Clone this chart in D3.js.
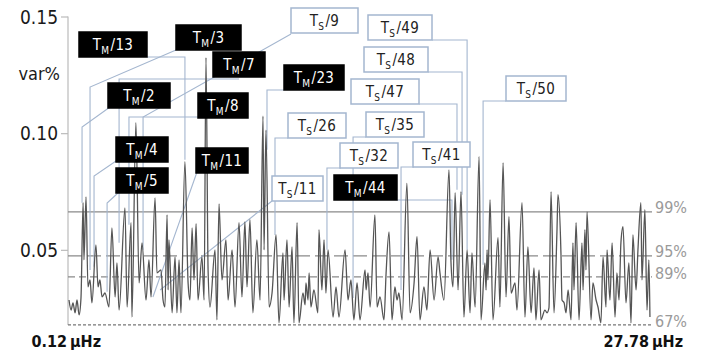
<!DOCTYPE html>
<html>
<head>
<meta charset="utf-8">
<script src="https://cdn.jsdelivr.net/npm/d3@7"></script>
<style>
  body { margin: 0; background: #fff; }
  svg text { font-family: "DejaVu Sans Condensed", "DejaVu Sans", sans-serif; }
</style>
</head>
<body>
<svg id="chart" width="704" height="354"></svg>
<script>
// spectrum: frequency (µHz) and variance (var%)
const freq = [0.12,0.22,0.31,0.41,0.50,0.60,0.69,0.79,0.83,0.93,1.02,1.12,1.21,1.40,1.50,1.59,1.69,1.83,2.02,2.16,2.31,2.40,2.50,2.78,2.88,3.07,3.11,3.30,3.45,3.59,3.78,3.92,4.02,4.21,4.30,4.49,4.59,4.68,4.78,4.83,4.87,5.02,5.16,5.25,5.35,5.44,5.63,5.78,5.87,5.97,6.06,6.16,6.25,6.44,6.54,6.63,6.73,6.82,7.06,7.15,7.25,7.39,7.58,7.68,7.87,8.01,8.20,8.34,8.48,8.58,8.72,8.86,9.05,9.20,9.34,9.39,9.48,9.63,9.77,9.96,10.10,10.29,10.34,10.48,10.58,10.72,10.81,10.96,11.05,11.24,11.34,11.38,11.48,11.53,11.62,11.76,11.95,12.00,12.14,12.24,12.33,12.43,12.67,12.81,12.95,13.24,13.38,13.52,13.66,13.81,13.95,14.19,14.24,14.33,14.43,14.66,14.76,14.90,15.09,15.19,15.33,15.47,15.61,15.71,15.80,15.95,16.18,16.33,16.52,16.66,16.80,16.99,17.13,17.28,17.47,17.66,17.75,17.94,18.18,18.27,18.37,18.47,18.61,18.75,18.89,19.04,19.18,19.27,19.42,19.61,19.70,19.89,19.94,19.99,20.03,20.13,20.27,20.51,20.60,20.75,20.89,21.03,21.13,21.32,21.41,21.65,21.79,21.93,22.08,22.22,22.31,22.46,22.55,22.74,22.84,22.93,23.03,23.17,23.31,23.36,23.50,23.55,23.65,23.74,23.84,23.98,24.07,24.12,24.22,24.36,24.50,24.55,24.64,24.69,24.74,24.93,25.02,25.17,25.26,25.40,25.50,25.64,25.69,25.83,25.93,26.07,26.16,26.26,26.35,26.45,26.59,26.73,26.83,26.92,27.07,27.16,27.30,27.35,27.49,27.59,27.68,27.73];
const varPct = [0.0285,0.0242,0.0273,0.0230,0.0285,0.0221,0.0294,0.0702,0.0457,0.0727,0.0341,0.0371,0.0273,0.0521,0.0341,0.0371,0.0298,0.0315,0.0255,0.0594,0.0298,0.0444,0.0242,0.0680,0.0255,0.0616,0.0212,0.1045,0.0358,0.0530,0.0285,0.0457,0.0298,0.0723,0.0401,0.0414,0.0285,0.0255,0.0650,0.0328,0.0543,0.0230,0.0470,0.0230,0.0457,0.0230,0.0878,0.0358,0.0285,0.0594,0.0371,0.0612,0.0285,0.0470,0.0285,0.1324,0.0414,0.0255,0.0500,0.0200,0.0697,0.0371,0.0543,0.0285,0.0500,0.0255,0.0616,0.0298,0.0620,0.0341,0.0629,0.0230,0.0543,0.0285,0.1073,0.0500,0.1013,0.0255,0.0315,0.0564,0.0187,0.0487,0.0285,0.0543,0.0255,0.0513,0.0187,0.0616,0.0187,0.0315,0.0264,0.0358,0.0285,0.0401,0.0255,0.0328,0.0230,0.0586,0.0328,0.0543,0.0315,0.0500,0.0212,0.0341,0.0212,0.0500,0.0285,0.0371,0.0200,0.0358,0.0200,0.0414,0.0328,0.0401,0.0255,0.0650,0.0255,0.0298,0.0200,0.0401,0.0577,0.0200,0.0341,0.0285,0.0315,0.0200,0.0785,0.0230,0.0358,0.0556,0.0200,0.0341,0.0242,0.0500,0.0285,0.0470,0.0401,0.0285,0.0843,0.0457,0.0341,0.0745,0.0328,0.0749,0.0212,0.0500,0.0230,0.0487,0.0255,0.0899,0.0200,0.0444,0.0328,0.0500,0.0371,0.0715,0.0200,0.0552,0.0255,0.0873,0.0298,0.0642,0.0315,0.0358,0.0242,0.0702,0.0212,0.0513,0.0230,0.0423,0.0200,0.0414,0.0200,0.0242,0.0230,0.0251,0.0749,0.0230,0.0577,0.0736,0.0487,0.0285,0.0273,0.0230,0.0328,0.0200,0.0530,0.0328,0.0616,0.0200,0.0530,0.0328,0.0586,0.0414,0.0663,0.0200,0.0358,0.0285,0.0255,0.0187,0.0470,0.0255,0.0500,0.0285,0.0530,0.0212,0.0401,0.0285,0.0530,0.0599,0.0273,0.0444,0.0187,0.0564,0.0328,0.0500,0.0702,0.0371,0.0672,0.0242,0.0457,0.0212];

const yTicks = [0.05, 0.10, 0.15];
const xEnds = [0.12, 27.78];

// significance levels
const levelNames = ["99%", "95%", "89%", "67%"];
const levelValues = [0.0663, 0.0474, 0.0384, 0.0178];

// annotated harmonics: label kind (M/S), divisor, frequency and var% where the pointer lands
const annKind = ["M","M","M","M","M","M","M","M","M","M","S","S","S","S","S","S","S","S","S","S"];
const annDiv = [13,3,7,2,8,4,5,11,23,44,9,49,48,47,26,35,32,41,11,50];
const annFreq = [5.63,1.12,2.50,0.74,2.97,1.31,1.93,4.11,9.53,18.32,3.64,19.04,18.80,18.56,9.91,13.62,12.38,15.90,4.45,19.80];
const annVar = [0.0886,0.0414,0.0530,0.0702,0.0607,0.0427,0.0320,0.0298,0.0929,0.0457,0.0500,0.0500,0.0736,0.0758,0.0564,0.0294,0.0500,0.0328,0.0328,0.0436];

// label box placement (px): left, top, width; pointer start and bend
const boxLayout = [
  {x:79, y:32, w:68, type:"elbow", sx:147, sy:57},
  {x:176, y:25, w:65, type:"diag", sx:176, sy:50, by:87},
  {x:213, y:52, w:52, type:"elbow", sx:239, sy:79},
  {x:108, y:83, w:62, type:"diag", sx:110, sy:107, by:127},
  {x:198, y:93, w:50, type:"elbow", sx:198, sy:117},
  {x:116, y:137, w:52, type:"diag", sx:116, sy:161, by:176},
  {x:116, y:168, w:52, type:"diag", sx:118, sy:193, by:203},
  {x:196, y:148, w:52, type:"line", sx:197, sy:172},
  {x:284, y:65, w:60, type:"elbow", sx:284, sy:90},
  {x:334, y:175, w:63, type:"elbow", sx:397, sy:200},
  {x:291, y:8, w:67, type:"diag", sx:291, sy:34, by:117},
  {x:368, y:15, w:64, type:"elbow", sx:432, sy:40},
  {x:364, y:47, w:64, type:"elbow", sx:428, sy:72},
  {x:351, y:79, w:68, type:"elbow", sx:419, sy:104},
  {x:288, y:113, w:58, type:"elbow", sx:288, sy:138},
  {x:366, y:112, w:58, type:"elbow", sx:366, sy:137},
  {x:340, y:143, w:58, type:"elbow", sx:341, sy:168},
  {x:413, y:142, w:57, type:"elbow", sx:414, sy:167},
  {x:272, y:176, w:51, type:"line", sx:272, sy:201},
  {x:506, y:76, w:60, type:"elbow", sx:506, sy:101}
];

const svg = d3.select("#chart");
const x = d3.scaleLinear().domain(xEnds).range([69, 651]);
const y = d3.scaleLinear().domain([0, 0.15]).range([366.5, 16.5]);

const blue = "#a4b6cf";

// y axis
const yAxis = svg.append("g")
  .attr("transform", "translate(68,0)")
  .call(d3.axisLeft(y).tickValues(yTicks).tickSize(7).tickPadding(3).tickFormat(d3.format(".2f")));
yAxis.select(".domain").remove();
yAxis.selectAll(".tick line").attr("stroke", "#bbb").attr("stroke-width", 1.2);
yAxis.selectAll(".tick text")
  .attr("fill", "#1a1a1a")
  .style("font-size", "19px")
  .attr("dy", "0.35em");
svg.append("line")
  .attr("x1", 68).attr("x2", 68)
  .attr("y1", y(0.15)).attr("y2", y(levelValues[3]))
  .attr("stroke", "#bbb").attr("stroke-width", 1.2);

svg.append("text").attr("x", 60).attr("y", 80)
  .attr("text-anchor", "end").attr("fill", "#1a1a1a")
  .style("font-size", "18px").text("var%");

// significance lines
const dashes = [null, "14,5", "7,4", "3,2"];
const levelColors = ["#8a8a8a", "#8a8a8a", "#8a8a8a", "#777"];
levelValues.forEach((v, i) => {
  svg.append("line")
    .attr("x1", 68).attr("x2", x(xEnds[1]) + 1)
    .attr("y1", y(v)).attr("y2", y(v))
    .attr("stroke", levelColors[i]).attr("stroke-width", 1.3)
    .attr("stroke-dasharray", dashes[i]);
  svg.append("text")
    .attr("x", 655).attr("y", y(v) + [1, 1, 2, 2][i])
    .attr("fill", "#9a9a9a").style("font-size", "16px")
    .text(levelNames[i]);
});

// pointers
const ann = annDiv.map((d, i) => ({
  kind: annKind[i], div: d, f: annFreq[i], v: annVar[i], ...boxLayout[i]
}));

svg.append("g").selectAll("path").data(ann).join("path")
  .attr("fill", "none").attr("stroke", blue).attr("stroke-width", 1.1)
  .attr("d", d => {
    const tx = x(d.f), ty = y(d.v);
    if (d.type === "elbow") return `M${d.sx},${d.sy}H${tx}V${ty}`;
    if (d.type === "diag") return `M${d.sx},${d.sy}L${tx},${d.by}V${ty}`;
    return `M${d.sx},${d.sy}L${tx},${ty}`;
  });

// spectrum
const line = d3.line().x(d => x(d[0])).y(d => y(d[1])).curve(d3.curveMonotoneX);
svg.append("path")
  .datum(d3.zip(freq, varPct))
  .attr("fill", "none").attr("stroke", "#555").attr("stroke-width", 1.3)
  .attr("stroke-linejoin", "round")
  .attr("d", line);

// label boxes
const boxes = svg.append("g").selectAll("g").data(ann).join("g")
  .attr("transform", d => `translate(${d.x},${d.y})`);
boxes.append("rect")
  .attr("width", d => d.w).attr("height", 25)
  .attr("fill", d => d.kind === "M" ? "#000" : "#fff")
  .attr("stroke", d => d.kind === "M" ? "#000" : blue)
  .attr("stroke-width", 1.5);
const lab = boxes.append("text")
  .attr("x", d => d.w / 2).attr("y", 18)
  .attr("text-anchor", "middle")
  .attr("fill", d => d.kind === "M" ? "#fff" : "#222")
  .style("font-size", "15px")
  .style("letter-spacing", "0.4px");
lab.append("tspan").text("T");
lab.append("tspan").attr("dy", 4).style("font-size", "10px").text(d => d.kind);
lab.append("tspan").attr("dy", -4).attr("dx", 1).text(d => "/" + d.div);

// x end labels
xEnds.forEach(f => {
  svg.append("text").attr("x", x(f) - 2).attr("y", 347)
    .attr("text-anchor", "end").attr("fill", "#111")
    .style("font-size", "16px").style("font-weight", "bold")
    .text(d3.format(".2f")(f));
  svg.append("text").attr("x", x(f) + 1).attr("y", 347)
    .attr("fill", "#111")
    .style("font-size", "16px").style("font-weight", "bold")
    .text("µHz");
});
</script>
</body>
</html>
